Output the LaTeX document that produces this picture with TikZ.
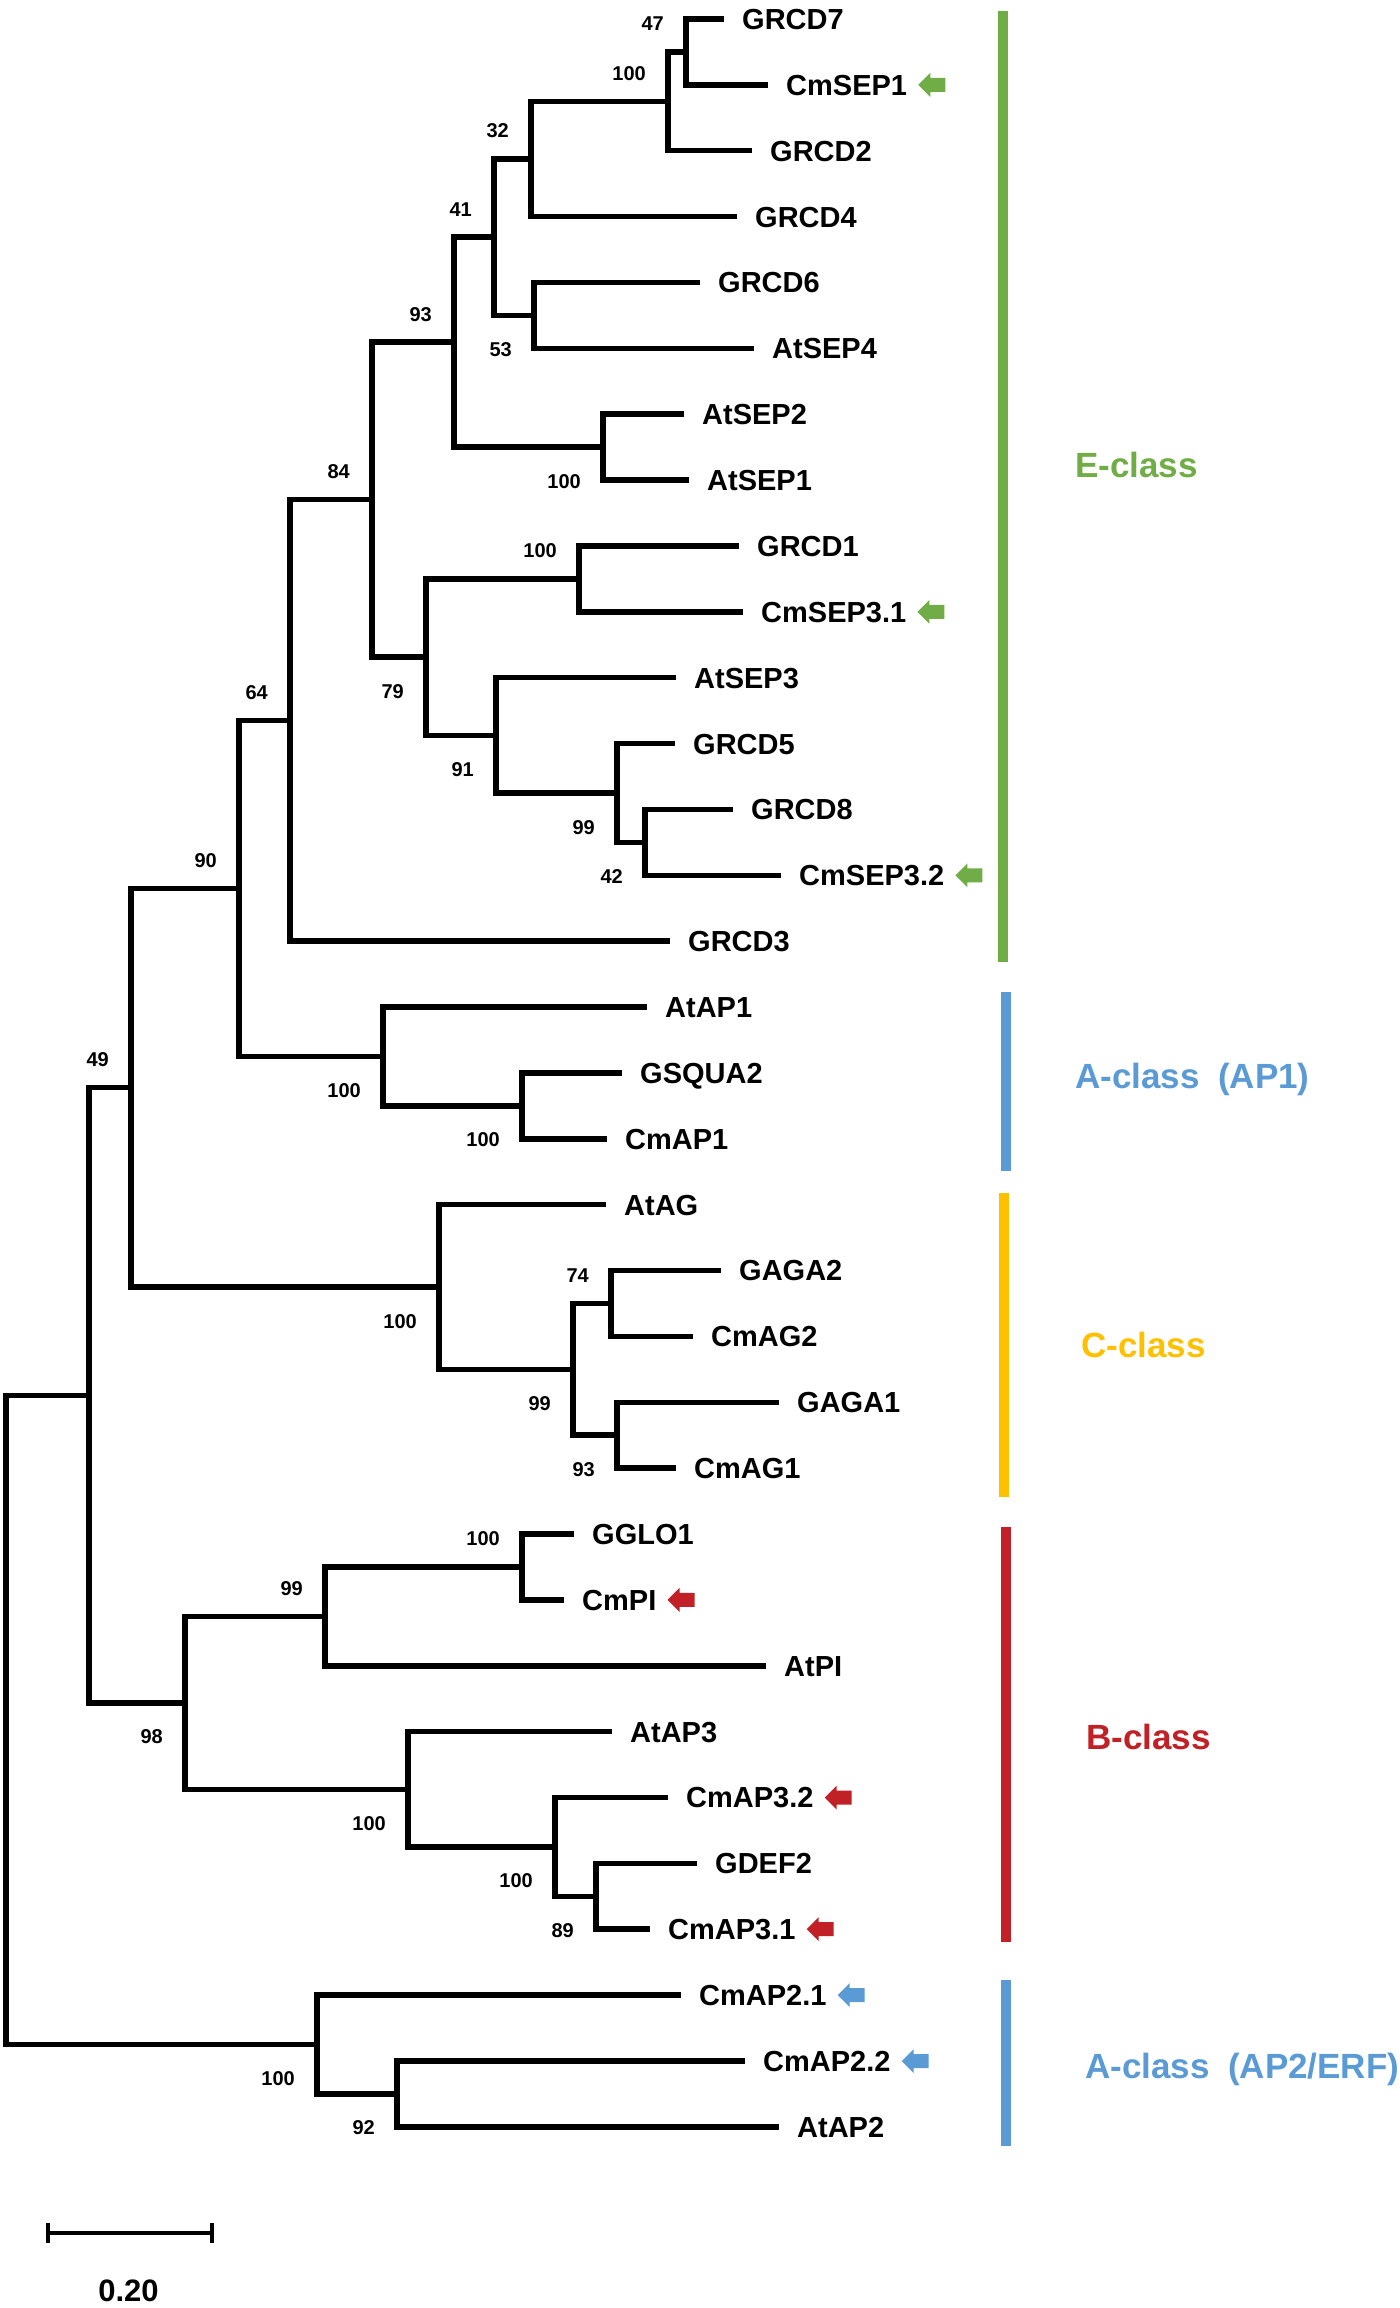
\documentclass[tikz,border=0pt]{standalone}
\usepackage{fontspec}
\setmainfont{Liberation Sans}
\usetikzlibrary{positioning}

\definecolor{eclass}{RGB}{112,173,71}
\definecolor{aclass}{RGB}{91,155,213}
\definecolor{cclass}{RGB}{255,192,0}
\definecolor{bclass}{RGB}{192,32,38}

\tikzset{
  branch/.style={line width=5.5pt, line join=miter},
  taxon/.style={inner sep=0pt, font=\fontsize{29}{34}\selectfont\bfseries, text height=20.8pt, text depth=0pt},
  boot/.style={inner sep=0pt, font=\fontsize{20}{24}\selectfont\bfseries, text height=14.3pt, text depth=0pt},
  classbar/.style={line width=10.5pt},
  classname/.style={inner sep=0pt, anchor=west, font=\fontsize{35}{42}\selectfont\bfseries, text height=25pt, text depth=0pt},
  markarrow/.pic={\fill (0,0) -- (12,-12) -- (12,-7) -- (27,-7) -- (27,7) -- (12,7) -- (12,12) -- cycle;}
}

\begin{document}
\begin{tikzpicture}[x=1pt,y=-1pt]
  \fill[white] (0,0) rectangle (1400,2308);
  \useasboundingbox (0,0) rectangle (1400,2308);

  % leaf ends
  \coordinate (tGRCD7) at (724,19);
  \coordinate (tCmSEP1) at (768,84.9);
  \coordinate (tGRCD2) at (752,150.7);
  \coordinate (tGRCD4) at (737,216.6);
  \coordinate (tGRCD6) at (700,282.5);
  \coordinate (tAtSEP4) at (754,348.4);
  \coordinate (tAtSEP2) at (684,414.2);
  \coordinate (tAtSEP1) at (689,480.1);
  \coordinate (tGRCD1) at (739,546);
  \coordinate (tCmSEP31) at (743,611.8);
  \coordinate (tAtSEP3) at (676,677.7);
  \coordinate (tGRCD5) at (675,743.6);
  \coordinate (tGRCD8) at (733,809.4);
  \coordinate (tCmSEP32) at (781,875.3);
  \coordinate (tGRCD3) at (670,941.2);
  \coordinate (tAtAP1) at (647,1007.1);
  \coordinate (tGSQUA2) at (622,1072.9);
  \coordinate (tCmAP1) at (607,1138.8);
  \coordinate (tAtAG) at (606,1204.7);
  \coordinate (tGAGA2) at (721,1270.5);
  \coordinate (tCmAG2) at (693,1336.4);
  \coordinate (tGAGA1) at (779,1402.3);
  \coordinate (tCmAG1) at (676,1468.1);
  \coordinate (tGGLO1) at (574,1534);
  \coordinate (tCmPI) at (564,1599.9);
  \coordinate (tAtPI) at (766,1665.8);
  \coordinate (tAtAP3) at (612,1731.6);
  \coordinate (tCmAP32) at (668,1797.5);
  \coordinate (tGDEF2) at (697,1863.4);
  \coordinate (tCmAP31) at (650,1929.2);
  \coordinate (tCmAP21) at (681,1995.1);
  \coordinate (tCmAP22) at (745,2061);
  \coordinate (tAtAP2) at (779,2126.8);

  % inner nodes
  \coordinate (n47) at (686,51.95);
  \coordinate (n100a) at (668,101.3);
  \coordinate (n32) at (531,158.95);
  \coordinate (n53) at (534,315.45);
  \coordinate (n41) at (494,237.2);
  \coordinate (n100b) at (603,447.15);
  \coordinate (n93) at (454,342.2);
  \coordinate (n100c) at (579,578.9);
  \coordinate (n42) at (645,842.35);
  \coordinate (n99a) at (617,793);
  \coordinate (n91) at (496,735.35);
  \coordinate (n79) at (426,657.1);
  \coordinate (n84) at (372,499.65);
  \coordinate (n64) at (290,720.4);
  \coordinate (n100e) at (522,1105.85);
  \coordinate (n100d) at (383,1056.5);
  \coordinate (n90) at (239,888.45);
  \coordinate (n74) at (611,1303.45);
  \coordinate (n93b) at (617,1435.2);
  \coordinate (n99b) at (573,1369.3);
  \coordinate (n100f) at (439,1287);
  \coordinate (n49) at (131,1087.7);
  \coordinate (n100g) at (522,1567);
  \coordinate (n99c) at (325,1616.4);
  \coordinate (n89b) at (596,1896.3);
  \coordinate (n100i) at (555,1846.9);
  \coordinate (n100h) at (408,1789.25);
  \coordinate (n98) at (185,1702.8);
  \coordinate (nX) at (89,1395.25);
  \coordinate (n92) at (397,2093.9);
  \coordinate (n100j) at (317,2044.5);
  \coordinate (root) at (6,1719.9);

  % branches
  \draw[branch] (tGRCD7) -| (n47) |- (tCmSEP1);
  \draw[branch] (n47) -| (n100a) |- (tGRCD2);
  \draw[branch] (n100a) -| (n32) |- (tGRCD4);
  \draw[branch] (tGRCD6) -| (n53) |- (tAtSEP4);
  \draw[branch] (n32) -| (n41) |- (n53);
  \draw[branch] (tAtSEP2) -| (n100b) |- (tAtSEP1);
  \draw[branch] (n41) -| (n93) |- (n100b);
  \draw[branch] (tGRCD1) -| (n100c) |- (tCmSEP31);
  \draw[branch] (tGRCD8) -| (n42) |- (tCmSEP32);
  \draw[branch] (tGRCD5) -| (n99a) |- (n42);
  \draw[branch] (tAtSEP3) -| (n91) |- (n99a);
  \draw[branch] (n100c) -| (n79) |- (n91);
  \draw[branch] (n93) -| (n84) |- (n79);
  \draw[branch] (n84) -| (n64) |- (tGRCD3);
  \draw[branch] (tGSQUA2) -| (n100e) |- (tCmAP1);
  \draw[branch] (tAtAP1) -| (n100d) |- (n100e);
  \draw[branch] (n64) -| (n90) |- (n100d);
  \draw[branch] (tGAGA2) -| (n74) |- (tCmAG2);
  \draw[branch] (tGAGA1) -| (n93b) |- (tCmAG1);
  \draw[branch] (n74) -| (n99b) |- (n93b);
  \draw[branch] (tAtAG) -| (n100f) |- (n99b);
  \draw[branch] (n90) -| (n49) |- (n100f);
  \draw[branch] (tGGLO1) -| (n100g) |- (tCmPI);
  \draw[branch] (n100g) -| (n99c) |- (tAtPI);
  \draw[branch] (tGDEF2) -| (n89b) |- (tCmAP31);
  \draw[branch] (tCmAP32) -| (n100i) |- (n89b);
  \draw[branch] (tAtAP3) -| (n100h) |- (n100i);
  \draw[branch] (n99c) -| (n98) |- (n100h);
  \draw[branch] (n49) -| (nX) |- (n98);
  \draw[branch] (tCmAP22) -| (n92) |- (tAtAP2);
  \draw[branch] (tCmAP21) -| (n100j) |- (n92);
  \draw[branch] (nX) -| (root) |- (n100j);

  % taxa
  \node[taxon, right=18pt of tGRCD7] (GRCD7) {GRCD7};
  \node[taxon, right=18pt of tCmSEP1] (CmSEP1) {CmSEP1};
  \node[taxon, right=18pt of tGRCD2] (GRCD2) {GRCD2};
  \node[taxon, right=18pt of tGRCD4] (GRCD4) {GRCD4};
  \node[taxon, right=18pt of tGRCD6] (GRCD6) {GRCD6};
  \node[taxon, right=18pt of tAtSEP4] (AtSEP4) {AtSEP4};
  \node[taxon, right=18pt of tAtSEP2] (AtSEP2) {AtSEP2};
  \node[taxon, right=18pt of tAtSEP1] (AtSEP1) {AtSEP1};
  \node[taxon, right=18pt of tGRCD1] (GRCD1) {GRCD1};
  \node[taxon, right=18pt of tCmSEP31] (CmSEP31) {CmSEP3.1};
  \node[taxon, right=18pt of tAtSEP3] (AtSEP3) {AtSEP3};
  \node[taxon, right=18pt of tGRCD5] (GRCD5) {GRCD5};
  \node[taxon, right=18pt of tGRCD8] (GRCD8) {GRCD8};
  \node[taxon, right=18pt of tCmSEP32] (CmSEP32) {CmSEP3.2};
  \node[taxon, right=18pt of tGRCD3] (GRCD3) {GRCD3};
  \node[taxon, right=18pt of tAtAP1] (AtAP1) {AtAP1};
  \node[taxon, right=18pt of tGSQUA2] (GSQUA2) {GSQUA2};
  \node[taxon, right=18pt of tCmAP1] (CmAP1) {CmAP1};
  \node[taxon, right=18pt of tAtAG] (AtAG) {AtAG};
  \node[taxon, right=18pt of tGAGA2] (GAGA2) {GAGA2};
  \node[taxon, right=18pt of tCmAG2] (CmAG2) {CmAG2};
  \node[taxon, right=18pt of tGAGA1] (GAGA1) {GAGA1};
  \node[taxon, right=18pt of tCmAG1] (CmAG1) {CmAG1};
  \node[taxon, right=18pt of tGGLO1] (GGLO1) {GGLO1};
  \node[taxon, right=18pt of tCmPI] (CmPI) {CmPI};
  \node[taxon, right=18pt of tAtPI] (AtPI) {AtPI};
  \node[taxon, right=18pt of tAtAP3] (AtAP3) {AtAP3};
  \node[taxon, right=18pt of tCmAP32] (CmAP32) {CmAP3.2};
  \node[taxon, right=18pt of tGDEF2] (GDEF2) {GDEF2};
  \node[taxon, right=18pt of tCmAP31] (CmAP31) {CmAP3.1};
  \node[taxon, right=18pt of tCmAP21] (CmAP21) {CmAP2.1};
  \node[taxon, right=18pt of tCmAP22] (CmAP22) {CmAP2.2};
  \node[taxon, right=18pt of tAtAP2] (AtAP2) {AtAP2};

  % bootstrap values
  \node[boot, above left=21pt and 22pt of n47] (b47) {47};
  \node[boot, above left=21pt and 22pt of n100a] (b100a) {100};
  \node[boot, above left=21pt and 22pt of n32] (b32) {32};
  \node[boot, above left=21pt and 22pt of n41] (b41) {41};
  \node[boot, below left=26.5pt and 22pt of n53] (b53) {53};
  \node[boot, above left=21pt and 22pt of n93] (b93) {93};
  \node[boot, below left=26.5pt and 22pt of n100b] (b100b) {100};
  \node[boot, above left=21pt and 22pt of n84] (b84) {84};
  \node[boot, above left=21pt and 22pt of n100c] (b100c) {100};
  \node[boot, below left=26.5pt and 22pt of n79] (b79) {79};
  \node[boot, below left=26.5pt and 22pt of n91] (b91) {91};
  \node[boot, below left=26.5pt and 22pt of n99a] (b99a) {99};
  \node[boot, below left=26.5pt and 22pt of n42] (b42) {42};
  \node[boot, above left=21pt and 22pt of n64] (b64) {64};
  \node[boot, above left=21pt and 22pt of n90] (b90) {90};
  \node[boot, below left=26.5pt and 22pt of n100d] (b100d) {100};
  \node[boot, below left=26.5pt and 22pt of n100e] (b100e) {100};
  \node[boot, above left=21pt and 22pt of n49] (b49) {49};
  \node[boot, below left=26.5pt and 22pt of n100f] (b100f) {100};
  \node[boot, above left=21pt and 22pt of n74] (b74) {74};
  \node[boot, below left=26.5pt and 22pt of n99b] (b99b) {99};
  \node[boot, below left=26.5pt and 22pt of n93b] (b93b) {93};
  \node[boot, above left=21pt and 22pt of n100g] (b100g) {100};
  \node[boot, above left=21pt and 22pt of n99c] (b99c) {99};
  \node[boot, below left=26.5pt and 22pt of n98] (b98) {98};
  \node[boot, below left=26.5pt and 22pt of n100h] (b100h) {100};
  \node[boot, below left=26.5pt and 22pt of n100i] (b100i) {100};
  \node[boot, below left=26.5pt and 22pt of n89b] (b89b) {89};
  \node[boot, below left=26.5pt and 22pt of n100j] (b100j) {100};
  \node[boot, below left=26.5pt and 22pt of n92] (b92) {92};

  % marked genes
  \pic[color=eclass] at ([xshift=11pt]CmSEP1.east) {markarrow};
  \pic[color=eclass] at ([xshift=11pt]CmSEP31.east) {markarrow};
  \pic[color=eclass] at ([xshift=11pt]CmSEP32.east) {markarrow};
  \pic[color=bclass] at ([xshift=11pt]CmPI.east) {markarrow};
  \pic[color=bclass] at ([xshift=11pt]CmAP32.east) {markarrow};
  \pic[color=bclass] at ([xshift=11pt]CmAP31.east) {markarrow};
  \pic[color=aclass] at ([xshift=11pt]CmAP21.east) {markarrow};
  \pic[color=aclass] at ([xshift=11pt]CmAP22.east) {markarrow};

  % class bars
  \draw[classbar, eclass] (1003,11) -- (1003,962);
  \draw[classbar, aclass] (1006,992) -- (1006,1171);
  \draw[classbar, cclass] (1004,1193) -- (1004,1497);
  \draw[classbar, bclass] (1006,1527) -- (1006,1942);
  \draw[classbar, aclass] (1006,1980) -- (1006,2146);

  % class names
  \node[classname, eclass] (Ename) at (1075,464.5) {E-class};
  \node[classname, aclass] (A1name) at (1075,1076) {A-class\hspace{0.25em} (AP1)};
  \node[classname, cclass] (Cname) at (1081,1344.5) {C-class};
  \node[classname, bclass] (Bname) at (1086,1737) {B-class};
  \node[classname, aclass] (A2name) at (1085,2066) {A-class\hspace{0.25em} (AP2/ERF)};

  % scale bar
  \coordinate (sbl) at (48,2233);
  \coordinate (sbr) at (212,2233);
  \draw[line width=4.3pt] (sbl) -- (sbr);
  \draw[line width=4.3pt] ([yshift=10pt]sbl) -- ([yshift=-10pt]sbl);
  \draw[line width=4.3pt] ([yshift=10pt]sbr) -- ([yshift=-10pt]sbr);
  \node[inner sep=0pt, font=\fontsize{31}{37}\selectfont\bfseries, text height=22.2pt, text depth=0pt] (sblabel) at (128.5,2290) {0.20};
\end{tikzpicture}
\end{document}
